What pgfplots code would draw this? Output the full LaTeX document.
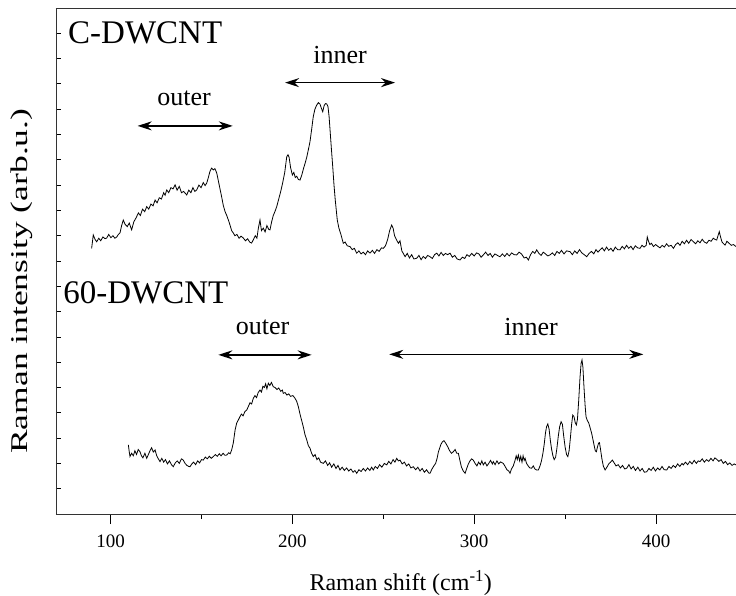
\documentclass[border=0pt]{standalone}
\usepackage{graphicx}
\usepackage{pgfplots}
\pgfplotsset{compat=1.18}
\usepackage{fontspec}
\setmainfont{Liberation Serif}
\usetikzlibrary{arrows.meta,calc}
\begin{document}
\begin{tikzpicture}
\begin{axis}[
  name=ax,
  scale only axis,
  width=680pt, height=506pt,
  xmin=70, xmax=444, ymin=0, ymax=20,
  xtick={100,200,300,400},
  minor x tick num=1,
  ytick={-5},
  yticklabels={},
  minor ytick={0,1,...,20},
  xtick pos=bottom, ytick pos=left,
  tick align=outside,
  major tick length=10pt, minor tick length=5pt,
  y tick style={xshift=5pt},
  tick style={black, line width=0.8pt},
  axis line style={line width=0.9pt, black!80},
  /pgf/number format/assume math mode=true,
  xticklabel style={font=\fontsize{19}{22}\selectfont, yshift=-7pt},
  xlabel={Raman shift (cm\textsuperscript{-1})},
  ylabel={\scalebox{1.48}[1]{Raman intensity (arb.u.)}},
  xlabel style={font=\fontsize{24}{28}\selectfont, at={(axis description cs:0.507,0)}, anchor=center, yshift=-69pt},
  ylabel style={font=\fontsize{24}{28}\selectfont, at={(axis description cs:-0.050,0.46)}, anchor=center},
  clip=false,
]
\addplot[black, line width=0.8pt] table {
89.6 10.50
90.5 11.03
91.5 10.85
92.4 10.76
93.5 10.90
94.6 10.80
95.8 10.95
97.0 10.88
97.9 10.91
99.0 11.05
100.2 10.92
101.3 11.00
102.4 10.90
103.4 10.95
104.3 11.05
105.2 11.11
106.1 11.40
107.0 11.62
108.0 11.45
109.2 11.36
110.3 11.50
111.6 11.23
112.8 11.55
114.0 11.70
115.3 11.90
116.4 11.80
117.6 12.05
118.8 11.95
119.9 12.15
121.0 12.05
122.2 12.25
123.4 12.18
124.5 12.41
125.6 12.30
126.8 12.50
128.0 12.45
129.2 12.70
130.0 12.60
130.9 12.81
132.0 12.70
133.2 12.90
134.4 12.85
135.5 13.01
136.6 12.80
137.8 12.95
139.0 12.70
140.2 12.75
141.9 12.61
143.0 12.80
144.2 12.70
145.3 12.90
146.4 12.75
147.4 12.81
148.6 13.00
149.8 12.90
151.0 13.10
152.0 12.98
152.9 13.08
153.8 13.30
154.7 13.55
155.6 13.67
156.5 13.60
157.4 13.65
158.4 13.48
159.2 13.20
160.2 12.85
161.1 12.54
162.0 12.20
163.0 11.95
163.9 11.80
164.8 11.62
165.8 11.40
166.6 11.20
167.5 11.11
168.4 11.00
169.5 11.05
170.7 10.90
171.8 10.98
173.0 10.91
174.2 10.80
175.4 10.88
176.5 10.75
177.6 10.71
178.6 10.85
179.6 11.00
180.5 10.90
181.3 11.30
182.2 11.62
183.0 11.20
184.0 11.30
185.0 11.15
186.0 11.40
187.0 11.25
187.7 11.23
188.6 11.55
189.5 11.80
190.4 11.95
191.4 12.15
192.5 12.45
193.6 12.75
194.7 13.10
195.8 13.50
196.9 14.12
197.6 14.20
198.2 14.10
199.0 13.70
200.0 13.40
200.8 13.50
201.6 13.30
202.4 13.35
203.3 13.22
204.2 13.20
205.2 13.40
206.1 13.65
207.0 13.86
207.9 14.10
208.8 14.40
209.7 14.72
210.6 15.20
211.5 15.71
212.4 16.00
213.3 16.15
214.3 16.26
215.2 16.20
215.9 16.05
216.7 15.90
217.5 16.15
218.2 16.22
218.9 16.21
219.6 16.10
220.2 15.71
220.8 15.10
221.5 14.40
222.2 13.73
222.9 13.00
223.6 12.40
224.7 11.62
225.6 11.30
226.7 11.05
228.0 10.70
229.0 10.75
230.2 10.60
231.7 10.57
232.9 10.45
234.1 10.50
235.4 10.31
236.6 10.40
237.8 10.28
239.0 10.35
240.2 10.25
241.4 10.40
242.7 10.31
244.0 10.42
245.2 10.30
246.5 10.45
247.7 10.38
249.0 10.52
250.0 10.50
251.2 10.60
252.4 10.85
253.5 11.20
254.6 11.42
255.4 11.30
256.2 11.00
257.2 10.85
258.3 10.70
259.2 10.80
260.2 10.40
261.0 10.30
262.0 10.17
263.2 10.30
264.4 10.12
265.6 10.25
266.8 10.08
268.4 10.11
269.6 10.22
270.8 10.05
272.0 10.18
273.2 10.10
274.4 10.22
275.7 10.17
277.0 10.10
278.2 10.25
279.4 10.31
280.6 10.20
281.8 10.34
283.0 10.22
284.2 10.30
285.4 10.25
286.7 10.31
288.0 10.15
289.3 10.22
290.6 10.08
292.2 10.04
293.5 10.15
294.8 10.10
296.0 10.25
297.3 10.18
298.6 10.30
300.0 10.20
301.3 10.32
302.6 10.28
303.8 10.15
305.0 10.24
306.3 10.35
307.6 10.22
308.8 10.30
310.0 10.15
311.4 10.28
312.8 10.22
314.2 10.17
315.5 10.28
316.8 10.18
318.0 10.30
319.3 10.20
320.6 10.32
322.0 10.25
323.4 10.24
324.7 10.35
326.0 10.28
327.5 10.12
328.7 10.15
329.8 10.04
331.0 10.25
332.2 10.38
333.3 10.30
334.4 10.44
335.6 10.30
336.8 10.22
338.0 10.35
339.2 10.28
340.5 10.20
341.7 10.24
343.0 10.32
344.3 10.22
345.5 10.38
346.8 10.30
348.0 10.42
349.4 10.28
350.8 10.40
352.7 10.37
354.0 10.25
355.3 10.40
356.6 10.30
357.9 10.45
359.2 10.32
360.5 10.25
361.9 10.17
363.2 10.30
364.5 10.38
365.8 10.28
367.0 10.45
368.1 10.35
369.2 10.44
370.4 10.52
371.6 10.40
372.8 10.55
374.0 10.42
375.2 10.50
376.4 10.38
377.6 10.55
378.9 10.45
380.2 10.44
381.4 10.58
382.6 10.48
383.8 10.62
385.0 10.50
386.2 10.58
387.4 10.45
388.6 10.60
389.9 10.52
391.2 10.50
392.3 10.62
393.4 10.55
394.6 10.62
395.2 10.95
395.8 10.80
396.6 10.65
397.5 10.70
398.6 10.57
399.8 10.65
401.0 10.58
402.2 10.52
403.4 10.62
404.6 10.55
405.8 10.68
407.0 10.58
408.3 10.62
409.6 10.50
410.8 10.65
412.0 10.72
413.2 10.62
414.4 10.78
415.6 10.68
416.8 10.82
418.0 10.70
419.3 10.85
420.6 10.76
421.8 10.68
423.0 10.80
424.2 10.72
425.4 10.86
426.6 10.75
427.9 10.70
429.1 10.82
430.3 10.78
431.5 10.90
432.5 10.85
433.4 10.83
434.1 11.00
434.8 11.16
435.5 10.95
436.3 10.75
437.2 10.68
438.0 10.63
439.0 10.78
440.2 10.70
441.4 10.62
442.6 10.65
444.0 10.57
};
\addplot[black, line width=0.8pt] table {
109.8 2.73
110.3 2.45
110.7 2.27
111.6 2.40
112.5 2.30
113.4 2.50
114.3 2.35
115.2 2.55
116.2 2.46
117.0 2.30
117.8 2.22
118.9 2.40
119.9 2.20
120.8 2.35
121.7 2.50
122.6 2.62
123.5 2.45
124.5 2.53
125.4 2.30
126.3 2.18
127.2 2.07
128.2 2.20
129.2 2.05
130.2 2.15
131.3 1.98
132.4 2.10
133.5 1.95
134.5 1.87
135.6 2.02
136.7 2.10
137.8 2.00
139.0 2.18
140.0 2.13
141.0 2.00
142.0 1.92
143.0 1.88
143.7 1.87
144.7 1.98
145.7 2.05
146.8 1.95
147.9 2.10
149.0 2.02
150.0 2.15
151.0 2.13
152.1 2.25
153.2 2.18
154.3 2.28
155.4 2.20
156.5 2.27
157.6 2.35
158.7 2.28
159.8 2.38
160.8 2.30
161.9 2.40
162.9 2.32
163.9 2.33
165.0 2.42
165.8 2.38
166.6 2.53
167.5 2.80
168.5 3.32
169.4 3.60
170.3 3.72
171.2 3.85
172.0 3.95
172.9 3.88
173.9 4.05
174.9 4.11
175.8 4.25
176.7 4.40
177.6 4.35
178.5 4.57
179.4 4.68
180.3 4.60
181.2 4.80
182.2 4.90
183.0 4.82
183.8 5.05
184.6 5.00
185.3 5.15
186.0 4.95
186.8 5.17
187.6 5.08
188.5 5.20
189.5 5.03
190.5 5.00
191.5 4.92
192.5 4.98
193.6 4.85
194.5 4.90
195.0 4.77
196.0 4.80
197.0 4.70
198.0 4.75
199.0 4.65
200.3 4.68
201.5 4.57
202.4 4.45
203.3 4.24
204.2 3.95
205.1 3.70
206.0 3.45
206.9 3.15
207.9 2.93
208.8 2.70
209.7 2.60
210.6 2.40
211.5 2.27
212.5 2.35
213.5 2.15
214.5 2.22
215.5 2.05
217.0 2.00
218.2 2.10
219.4 1.92
220.5 2.02
221.6 1.85
222.8 1.98
224.0 1.80
225.1 1.92
226.2 1.74
227.4 1.85
228.6 1.72
229.8 1.82
231.0 1.70
232.2 1.78
233.4 1.65
234.4 1.72
235.4 1.61
236.6 1.75
237.8 1.68
239.0 1.80
240.2 1.70
241.4 1.82
242.6 1.72
243.6 1.85
244.5 1.74
245.6 1.88
246.8 1.80
248.0 1.95
249.2 1.85
250.6 2.00
251.9 1.94
253.0 2.08
254.2 1.98
255.4 2.15
256.4 2.05
257.4 2.20
258.3 2.10
259.2 2.13
260.4 1.98
261.6 2.05
262.8 1.90
264.0 1.98
265.2 1.82
266.5 1.87
267.8 1.75
269.0 1.85
270.2 1.70
271.4 1.80
272.6 1.65
273.8 1.75
275.0 1.62
275.7 1.61
276.8 1.78
277.8 1.90
278.8 2.00
279.6 2.20
280.3 2.45
281.0 2.60
281.7 2.75
282.5 2.85
283.4 2.90
284.5 2.78
285.5 2.65
286.5 2.50
287.5 2.40
288.5 2.46
289.5 2.55
290.4 2.40
291.3 2.40
292.2 2.10
293.0 1.85
294.0 1.70
295.0 1.61
295.9 1.80
296.8 1.98
297.7 2.10
298.6 2.18
299.5 2.13
300.5 2.00
301.5 1.90
302.4 2.05
303.4 1.95
304.2 2.10
305.0 1.94
306.0 2.05
307.0 1.90
308.0 2.00
309.0 2.12
310.0 1.98
310.5 2.07
311.5 1.95
312.5 2.10
313.5 1.98
314.5 2.06
316.0 2.00
317.0 1.88
318.0 1.75
319.0 1.70
319.7 1.61
320.5 1.78
321.5 1.90
322.4 2.10
323.1 2.30
323.7 2.15
324.3 2.33
325.0 2.10
325.6 2.28
326.3 2.05
326.9 2.30
327.5 2.12
328.0 2.20
328.8 2.00
329.7 1.90
330.6 1.82
331.6 1.81
332.5 1.90
333.4 1.78
334.3 1.74
335.3 1.74
336.2 1.90
337.0 2.10
337.8 2.40
338.5 2.75
339.2 3.20
339.8 3.45
340.5 3.56
341.2 3.35
341.9 2.90
342.6 2.55
343.3 2.30
344.0 2.15
344.8 2.25
345.5 2.60
346.3 3.10
347.0 3.45
347.8 3.65
348.5 3.55
349.2 3.10
350.0 2.65
350.8 2.35
351.5 2.27
352.2 2.50
352.9 3.00
353.6 3.55
354.2 3.91
354.9 3.85
355.6 3.60
356.2 3.52
356.8 3.75
357.5 4.50
358.2 5.40
358.8 5.95
359.3 6.09
359.8 5.80
360.4 5.00
361.0 4.30
361.5 3.85
362.2 3.70
363.0 3.60
363.8 3.40
364.6 3.19
365.3 2.95
366.0 2.70
366.6 2.50
367.2 2.46
367.8 2.65
368.4 2.80
368.9 2.82
369.5 2.55
370.2 2.20
371.0 1.90
372.0 1.74
373.0 1.85
374.0 1.98
375.0 2.05
376.0 2.13
377.0 2.02
378.0 1.90
379.2 1.95
380.4 1.82
381.6 1.92
382.8 1.78
383.9 1.81
385.1 1.95
386.3 1.78
387.5 1.88
388.7 1.72
390.0 1.85
391.2 1.70
392.4 1.80
393.6 1.65
394.9 1.67
396.1 1.80
397.3 1.72
398.5 1.85
399.7 1.70
400.9 1.82
402.1 1.74
403.3 1.88
404.5 1.75
405.9 1.74
407.1 1.88
408.3 1.80
409.5 1.92
410.7 1.84
411.9 1.98
413.1 1.88
414.3 2.00
415.0 1.94
416.2 2.05
417.4 1.95
418.6 2.08
419.8 1.98
421.0 2.12
422.2 2.00
423.2 2.10
424.2 2.07
425.4 2.18
426.6 2.05
427.8 2.15
429.0 2.08
430.2 2.20
431.4 2.10
432.4 2.22
433.4 2.16
434.6 2.08
435.8 2.15
437.0 2.00
438.2 2.08
439.4 1.95
440.6 2.02
441.8 1.92
443.0 1.98
444.0 1.94
};
% annotations
\tikzset{dblarrow/.style={line width=1.4pt, {Stealth[length=14pt,width=9pt]}-{Stealth[length=14pt,width=9pt]}}}
\draw[dblarrow] (axis cs:114.9,15.34) -- (axis cs:167.2,15.34);
\draw[dblarrow] (axis cs:196,17.05) -- (axis cs:256.5,17.05);
\draw[dblarrow] (axis cs:159.3,6.29) -- (axis cs:210.6,6.29);
\draw[dblarrow] (axis cs:253.3,6.31) -- (axis cs:393,6.31);
\node[font=\fontsize{26}{30}\selectfont] at (axis cs:140.4,16.44) {outer};
\node[font=\fontsize{26}{30}\selectfont] at (axis cs:226.2,18.14) {inner};
\node[font=\fontsize{26}{30}\selectfont] at (axis cs:183.6,7.39) {outer};
\node[font=\fontsize{26}{30}\selectfont] at (axis cs:331.3,7.39) {inner};
\node[font=\fontsize{33}{38}\selectfont, anchor=west, inner sep=0pt] at (axis cs:76.6,19.0) {C-DWCNT};
\node[font=\fontsize{33}{38}\selectfont, anchor=west, inner sep=0pt] at (axis cs:73.9,8.74) {60-DWCNT};
\end{axis}
\pgfresetboundingbox
\path ($(ax.south west)+(-56pt,-81pt)$) rectangle ($(ax.north east)+(0pt,8pt)$);
\end{tikzpicture}
\end{document}
